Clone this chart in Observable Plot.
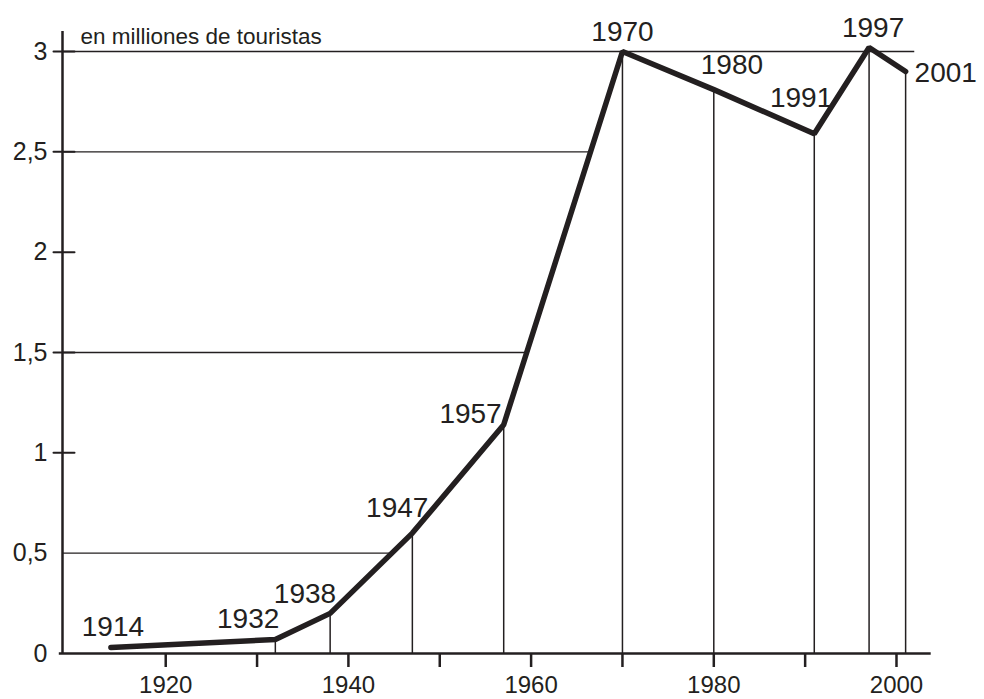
<!DOCTYPE html>
<html>
<head>
<meta charset="utf-8">
<script src="https://cdn.jsdelivr.net/npm/d3@7"></script>
<script src="https://cdn.jsdelivr.net/npm/@observablehq/plot@0.6"></script>
<style>
  html, body { margin: 0; padding: 0; background: #fff; }
  #chart svg { display: block; font-family: "Liberation Sans", Arial, sans-serif; }
</style>
</head>
<body>
<div id="chart"></div>
<script>
// ---- data ----
const years  = [1914, 1932, 1938, 1947, 1957, 1970, 1980, 1991, 1997, 2001];
const values = [0.03, 0.07, 0.2, 0.6, 1.14, 3.0, 2.81, 2.59, 3.02, 2.9];
const yTicks = [0, 0.5, 1, 1.5, 2, 2.5, 3];
const yTickMarks = [1, 1.5, 2, 2.5, 3];
const xTicks = [1920, 1930, 1940, 1950, 1960, 1970, 1980, 1990, 2000];
const xLabels = [1920, 1940, 1960, 1980, 2000];
const gridLevels = [0.5, 1.5, 2.5];
const topLevel = 3;
const unitLabel = "en milliones de touristas";

// label placement (layout, not data)
const labelLayout = {
  1914: {anchor: "middle", dx: 2,   dy: -11},
  1932: {anchor: "end",    dx: 4,   dy: -11},
  1938: {anchor: "end",    dx: 6,   dy: -10},
  1947: {anchor: "end",    dx: 16,  dy: -16},
  1957: {anchor: "end",    dx: -2,  dy: -2},
  1970: {anchor: "middle", dx: 0,   dy: -11},
  1980: {anchor: "start",  dx: -13, dy: -16},
  1991: {anchor: "end",    dx: 18,  dy: -27},
  1997: {anchor: "middle", dx: 4,   dy: -10},
  2001: {anchor: "start",  dx: 9,   dy: 10}
};

const data = years.map((year, i) => ({year, value: values[i]}));
const ink = "#231f20";
const xDomain = [1908.7, 2003.8];

// first crossing of each grid level with the series
function crossing(level) {
  for (let i = 1; i < data.length; i++) {
    const a = data[i - 1], b = data[i];
    if ((a.value - level) * (b.value - level) <= 0 && a.value !== b.value) {
      return a.year + (level - a.value) / (b.value - a.value) * (b.year - a.year);
    }
  }
  return xDomain[1];
}
const grid = gridLevels.map(v => ({v, x2: crossing(v)}));
grid.push({v: topLevel, x2: years[years.length - 1] + 1});

const tickShape = {draw(ctx, l) { ctx.moveTo(0, 0); ctx.lineTo(0, -l); }};

const labelMarks = data.map(d => {
  const L = labelLayout[d.year];
  return Plot.text([d], {
    x: "year", y: "value", text: d => String(d.year),
    textAnchor: L.anchor, lineAnchor: "bottom",
    dx: L.dx, dy: L.dy, fontSize: 28, fill: ink
  });
});

const chart = Plot.plot({
  width: 984,
  height: 699,
  marginLeft: 62,
  marginRight: 53.3,
  marginTop: 51,
  marginBottom: 46,
  style: {background: "#fff", color: ink, overflow: "visible"},
  x: {domain: xDomain},
  y: {domain: [0, 3]},
  marks: [
    // horizontal partial gridlines
    Plot.ruleY(grid, {y: "v", x1: xDomain[0], x2: "x2", stroke: ink, strokeWidth: 1.3}),
    // drop lines
    Plot.ruleX(data.slice(1), {x: "year", y1: 0, y2: "value", stroke: ink, strokeWidth: 1.5}),
    // axis lines
    Plot.ruleY([0], {x1: xDomain[0] - 0.35, x2: xDomain[1], stroke: ink, strokeWidth: 2.5}),
    Plot.ruleX([xDomain[0]], {y1: 0, y2: 3.1, stroke: ink, strokeWidth: 2.5}),
    // y ticks crossing axis
    Plot.vector(yTickMarks, {x: xDomain[0], y: d => d, length: 21, rotate: 90, anchor: "middle",
      dx: 1.5, shape: tickShape, stroke: ink, strokeWidth: 2}),
    Plot.axisY(yTicks, {tickSize: 0, tickPadding: 15, fontSize: 25, fill: ink,
      tickFormat: d => String(d).replace(".", ",")}),
    Plot.axisX(xTicks, {tickSize: 14, tickPadding: 8, strokeWidth: 2.5, stroke: ink, fontSize: 24, fill: ink,
      tickFormat: d => xLabels.includes(d) ? String(d) : ""}),
    // series line
    Plot.line(data, {x: "year", y: "value", stroke: ink, strokeWidth: 5.5, strokeLinejoin: "miter", strokeLinecap: "round"}),
    ...labelMarks,
    Plot.text([unitLabel], {x: xDomain[0], y: topLevel, text: d => d, dx: 18, dy: -8,
      textAnchor: "start", lineAnchor: "bottom", fontSize: 22.5, fill: ink})
  ]
});
document.getElementById("chart").appendChild(chart);
</script>
</body>
</html>
